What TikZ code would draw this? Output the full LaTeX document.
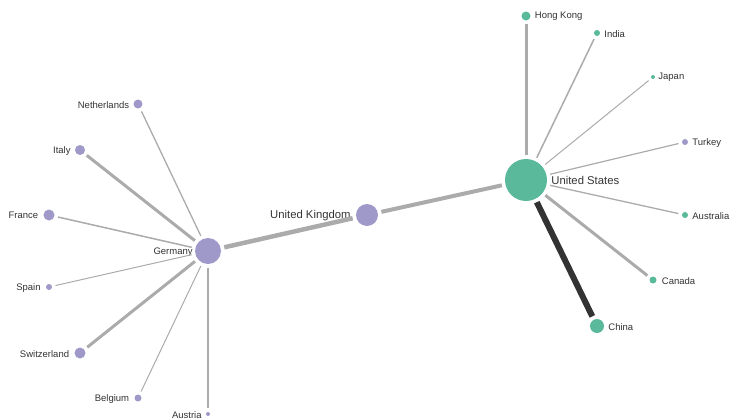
\documentclass[tikz,border=0pt]{standalone}
\usepackage{fontspec}
\setmainfont{Liberation Sans}
\usetikzlibrary{positioning}

\definecolor{usgreen}{HTML}{5BB99B}
\definecolor{eupurple}{HTML}{9E99C8}
\definecolor{linkgray}{HTML}{ABABAB}
\definecolor{linkdark}{HTML}{333333}
\definecolor{txtgray}{HTML}{333333}

\begin{document}
\begin{tikzpicture}[x=1pt,y=-1pt,
    country/.style={circle,inner sep=0pt,minimum size=#1},
    green/.style={country=#1,fill=usgreen},
    purple/.style={country=#1,fill=eupurple},
    link/.style={draw=linkgray,line width=#1,shorten <=3.5pt,shorten >=3.5pt},
    lbl/.style={font=\fontsize{9.5}{10}\selectfont,text=txtgray,inner sep=0pt,yshift=-0.7pt},
    big/.style={font=\fontsize{11.3}{12}\selectfont,text=txtgray,inner sep=0pt,yshift=-0.5pt},
    label distance=4pt]
    \useasboundingbox (0,0) rectangle (732,418);

    % hub nodes
    \node[green=42pt,label={[big]right:United States}] (us) at (526,180) {};
    \node[purple=22pt,label={[big,label distance=5pt]left:United Kingdom}] (uk) at (367,215) {};
    \node[purple=26pt,label={[lbl,label distance=2pt]left:Germany}] (de) at (208,251) {};

    % partners of the US
    \node[green=9pt,label={[lbl]right:Hong Kong}] (hk) at (526,16) {};
    \node[green=6pt,label={[lbl]right:India}] (in) at (597,33) {};
    \node[green=4pt,label={[lbl,label distance=3pt]right:Japan}] (jp) at (653,77) {};
    \node[purple=6pt,label={[lbl]right:Turkey}] (tr) at (685,142) {};
    \node[green=6pt,label={[lbl]right:Australia}] (au) at (685,215) {};
    \node[green=7pt,label={[lbl,label distance=5pt]right:Canada}] (ca) at (653,280) {};
    \node[green=14pt,label={[lbl]right:China}] (cn) at (597,326) {};

    % partners of Germany
    \node[purple=9pt,label={[lbl]left:Netherlands}] (nl) at (138,104) {};
    \node[purple=10pt,label={[lbl]left:Italy}] (it) at (80,150) {};
    \node[purple=11pt,label={[lbl,label distance=5pt]left:France}] (fr) at (49,215) {};
    \node[purple=6pt,label={[lbl,label distance=5pt]left:Spain}] (es) at (49,287) {};
    \node[purple=11pt,label={[lbl,label distance=5pt]left:Switzerland}] (ch) at (80,353) {};
    \node[purple=7pt,label={[lbl,label distance=5pt]left:Belgium}] (be) at (138,398) {};
    \node[purple=4pt,label={[lbl,label distance=4pt]left:Austria}] (at) at (208,414) {};

    % links
    \draw[link=3pt] (us) -- (hk);
    \draw[link=1.5pt] (us) -- (in);
    \draw[link=1pt] (us) -- (jp);
    \draw[link=1.2pt] (us) -- (tr);
    \draw[link=1.3pt] (us) -- (au);
    \draw[link=3pt] (us) -- (ca);
    \draw[link=6pt,draw=linkdark] (us) -- (cn);
    \draw[link=4pt] (us) -- (uk);
    \draw[link=4.5pt] (uk) -- (de);
    \draw[link=1.3pt] (de) -- (nl);
    \draw[link=3pt] (de) -- (it);
    \draw[link=1.5pt] (de) -- (fr);
    \draw[link=1pt] (de) -- (es);
    \draw[link=3pt] (de) -- (ch);
    \draw[link=1pt] (de) -- (be);
    \draw[link=1.2pt] (de) -- (at);
\end{tikzpicture}
\end{document}
